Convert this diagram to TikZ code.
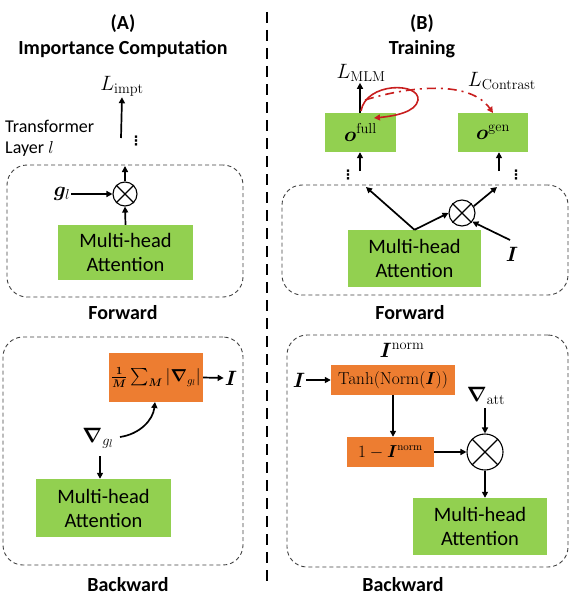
\documentclass[tikz,border=0pt]{standalone}
\usepackage{amsmath}
\usepackage{bm}
\usepackage[no-math]{fontspec}
\setmainfont{Carlito}
\newfontfamily\dejavu{DejaVu Sans}
\usetikzlibrary{arrows.meta}
\definecolor{mhagreen}{HTML}{92D050}
\definecolor{boxorange}{HTML}{ED7D31}
\definecolor{lossred}{HTML}{C81E1E}
\definecolor{dashgray}{HTML}{404040}
\tikzset{
  greenbox/.style={fill=mhagreen, draw=none, align=center, inner sep=0pt, font=\fontsize{20.5}{24}\selectfont},
  orangebox/.style={fill=boxorange, draw=none, inner sep=0pt},
  dbox/.style={draw=dashgray, dash pattern=on 4pt off 3pt, line width=0.9pt, rounded corners=20pt, inner sep=0pt},
  otimesnode/.style={circle, draw, line width=1.1pt, inner sep=0pt},
  arr/.style={line width=1.7pt, -{Triangle[length=6pt,width=6pt]}},
  lbl/.style={inner sep=1pt, font=\fontsize{22}{26}\selectfont},
  ttl/.style={align=center, font=\fontsize{20}{25}\selectfont\bfseries},
  dotsnode/.style={inner sep=0pt, font=\dejavu\bfseries\fontsize{13}{13}\selectfont},
  redarr/.style={lossred, line width=1.6pt, -{Triangle[length=6pt,width=6pt]}},
}
\newcommand{\crossin}[1]{\draw[line width=1.1pt] (#1.north west) -- (#1.south east) (#1.north east) -- (#1.south west);}
\begin{document}
\begin{tikzpicture}[x=1pt,y=-1pt]
\useasboundingbox (0,0) rectangle (577,602);

% ===== (A) =====
\node[ttl] (titleA) at (123,36) {(A)\\Importance Computation};
\node[lbl] (Limpt) at (122,86) {$L_{\mathrm{impt}}$};
\node[dotsnode] (dotsA) at (136,141) {⋮};
\coordinate (aA) at (121,138);
\draw[arr] (aA) -- (Limpt.south);
\node[align=left, anchor=west, inner sep=0pt, font=\fontsize{18}{21}\selectfont] (tlayer) at (5,138) {Transformer\\Layer $l$};

\node[dbox, minimum width=236pt, minimum height=132pt] (boxAf) at (125,231) {};
\node[otimesnode, minimum size=24pt] (otA) at (125,194) {};
\crossin{otA}
\node[lbl] (gl) at (62,194) {$\bm{g}_l$};
\draw[arr] (gl.east) -- (otA.west);
\node[greenbox, minimum width=135pt, minimum height=55pt] (mhaA1) at (125.5,252.5) {Multi-head\\Attention};
\draw[arr] (mhaA1.north) -- (otA.south);
\coordinate (topA) at (125,166);
\draw[arr] (otA.north) -- (topA);
\node[ttl] (fwdA) at (123,313) {Forward};

\node[dbox, minimum width=240pt, minimum height=228pt] (boxAb) at (123,451) {};
\node[orangebox, minimum width=94pt, minimum height=49pt, font=\fontsize{16}{20}\selectfont] (sumbox) at (156,377.5) {$\frac{\mathbf{1}}{\bm{M}}\sum_{\bm{M}}|\bm{\nabla}_{g_l}|$};
\node[lbl] (Iout) at (231,378) {$\bm{I}$};
\draw[arr] (sumbox.east) -- (Iout.west);
\node[lbl] (gradA) at (98,438) {$\bm{\nabla}_{g_l}$};
\coordinate (gAs) at (120,437);
\draw[arr] (gAs) .. controls (140,434) and (153,420) .. (155,402);
\node[greenbox, minimum width=135pt, minimum height=58pt] (mhaA2) at (103.5,508) {Multi-head\\Attention};
\coordinate (gAd) at (100,456);
\draw[arr] (gAd) -- (gAd |- mhaA2.north);
\node[ttl] (bwdA) at (128,585) {Backward};

% divider
\coordinate (divtop) at (267,12);
\coordinate (divbot) at (267,582);
\draw[line width=2.6pt, dash pattern=on 11pt off 7pt] (divtop) -- (divbot);

% ===== (B) =====
\node[ttl] (titleB) at (422,36) {(B)\\Training};
\node[lbl] (LMLM) at (361,73) {$L_{\mathrm{MLM}}$};
\node[lbl] (LCon) at (502,81) {$L_{\mathrm{Contrast}}$};
\node[greenbox, minimum width=71pt, minimum height=39pt, font=\fontsize{21}{24}\selectfont] (ofull) at (360.5,132.5) {$\bm{o}^{\mathrm{full}}$};
\node[greenbox, minimum width=70pt, minimum height=39pt, font=\fontsize{21}{24}\selectfont] (ogen) at (493,132.5) {$\bm{o}^{\mathrm{gen}}$};
\coordinate (ofT) at (360,113);
\draw[arr] (ofT) -- (ofT |- LMLM.south);
\coordinate (loopend) at (374,118);
\draw[redarr] (361,111) .. controls (366,82) and (420,82) .. (418,100) .. controls (416,112) and (395,116) .. (loopend);
\coordinate (ogT) at (493,113);
\draw[lossred, line width=1.6pt, dash pattern=on 9pt off 5pt on 2pt off 5pt, -{Triangle[length=6pt,width=6pt]}] (365,100) .. controls (410,86) and (470,80) .. (ogT);
\node[dotsnode] (dotsB1) at (348,175) {⋮};
\node[dotsnode] (dotsB2) at (516,175) {⋮};
\coordinate (ofB) at (360,171);
\coordinate (ogB) at (499,171);
\draw[arr] (ofB) -- (ofB |- ofull.south);
\draw[arr] (ogB) -- (ogB |- ogen.south);

\node[dbox, minimum width=286pt, minimum height=110pt] (boxBf) at (425,240) {};
\node[greenbox, minimum width=133pt, minimum height=57pt] (mhaB1) at (414.5,258.5) {Multi-head\\Attention};
\node[otimesnode, minimum size=26pt] (otB) at (462,213) {};
\crossin{otB}
\coordinate (upL) at (366,187);
\coordinate (upR) at (497,187);
\draw[arr] (mhaB1.north) -- (upL);
\draw[arr] (mhaB1.north) -- (otB.west);
\draw[arr] (otB.30) -- (upR);
\node[lbl] (IB) at (512,254) {$\bm{I}$};
\coordinate (IBs) at (510,240);
\draw[arr] (IBs) -- (otB.-40);
\node[ttl] (fwdB) at (410,313) {Forward};

\node[dbox, minimum width=281pt, minimum height=232pt] (boxBb) at (427.5,451) {};
\node[lbl] (Inorm) at (402,350) {$\bm{I}^{\mathrm{norm}}$};
\node[orangebox, minimum width=124pt, minimum height=30pt, font=\fontsize{16}{20}\selectfont] (tanh) at (393,380) {$\mathrm{Tanh}(\mathrm{Norm}(\bm{I}))$};
\node[lbl] (Iin) at (299,380) {$\bm{I}$};
\draw[arr] (Iin.east) -- (tanh.west);
\node[orangebox, minimum width=87pt, minimum height=30pt, font=\fontsize{16}{20}\selectfont] (onem) at (390.5,452) {$1-\bm{I}^{\mathrm{norm}}$};
\coordinate (tS) at (393,395);
\draw[arr] (tS) -- (tS |- onem.north);
\node[otimesnode, minimum size=36pt] (otC) at (485,452) {};
\crossin{otC}
\draw[arr] (onem.east) -- (otC.west);
\node[lbl] (gradatt) at (486,396) {$\bm{\nabla}_{\mathrm{att}}$};
\coordinate (gaS) at (485,408);
\draw[arr] (gaS) -- (otC.north);
\node[greenbox, minimum width=134pt, minimum height=57pt] (mhaB2) at (480,526.5) {Multi-head\\Attention};
\draw[arr] (otC.south) -- (otC.south |- mhaB2.north);
\node[ttl] (bwdB) at (403,585) {Backward};
\end{tikzpicture}
\end{document}
